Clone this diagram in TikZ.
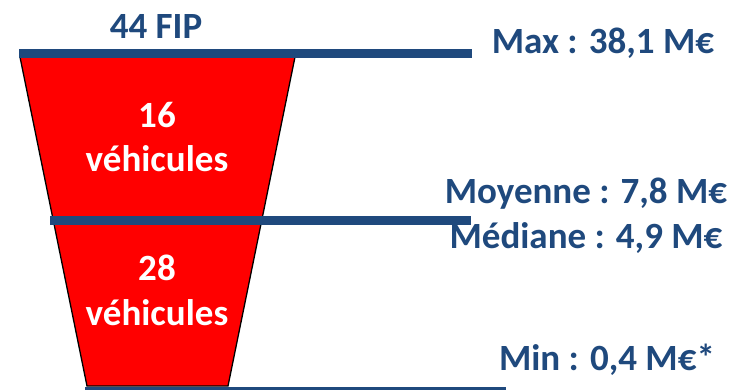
\documentclass[tikz,border=0pt]{standalone}
\usepackage{fontspec}
\setmainfont{Carlito}
\usepackage{tikz}
\usetikzlibrary{positioning}

\definecolor{fipblue}{RGB}{31,73,125}

\tikzset{
  barre/.style={line width=9pt, draw=fipblue},
  etiq/.style={font=\fontsize{37}{44}\selectfont\bfseries, text=fipblue, inner sep=0pt, anchor=base},
  nbveh/.style={font=\fontsize{37}{44}\selectfont\bfseries, text=white, inner sep=0pt, anchor=base}
}

\begin{document}
\begin{tikzpicture}[x=1pt,y=-1pt]

\useasboundingbox (0,0) rectangle (731,389);

% l'entonnoir
\draw[fill=red, draw=black, line width=1.3pt] (20,57) -- (295,57) -- (228,386) -- (87,386) -- cycle;

% les barres : max, moyenne, min
\draw[barre] (19,53) -- (472,53);
\draw[barre] (50,220) -- (471,220);
\draw[barre] (85,391) -- (506,391);

\node[etiq] (fip) at (156,38) {44 FIP};

\node[nbveh] (nbA) at (157,127) {16};
\node[nbveh] (vehA) at (157,171) {véhicules};
\node[nbveh] (nbB) at (157,280) {28};
\node[nbveh] (vehB) at (157,325) {véhicules};

% les valeurs
\node[etiq] (max) at (603,53) {Max : 38,1 M€};
\node[etiq] (moy) at (586,203) {Moyenne : 7,8 M€};
\node[etiq] (med) at (586,248) {Médiane : 4,9 M€};
\node[etiq] (min) at (607,370) {Min : 0,4 M€*};

\end{tikzpicture}
\end{document}
